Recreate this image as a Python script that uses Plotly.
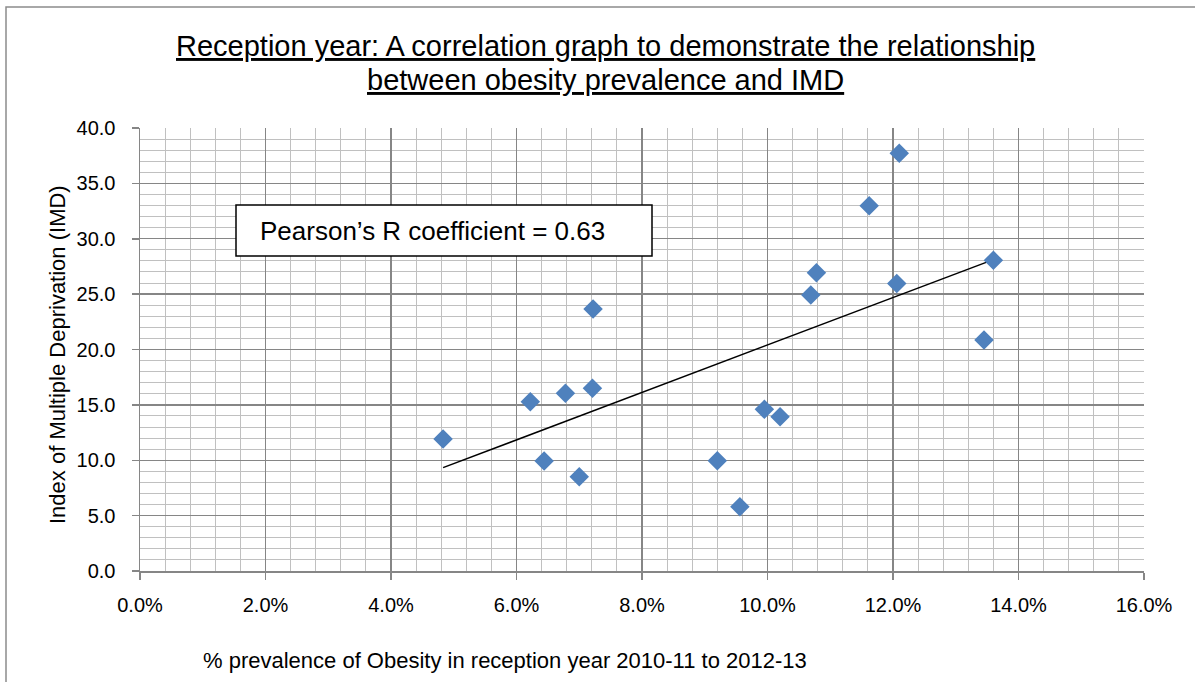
import numpy as np
import plotly.graph_objects as go

# % prevalence of obesity (reception year) and IMD score
obesity_pct = [4.83, 6.22, 6.44, 6.78, 7.00, 7.21, 7.22, 9.20, 9.56, 9.95,
               10.20, 10.69, 10.78, 11.62, 12.06, 12.10, 13.45, 13.60]
imd_score = [11.92, 15.29, 9.93, 16.04, 8.52, 16.49, 23.66, 9.96, 5.81, 14.60,
             13.93, 24.92, 26.94, 32.98, 25.97, 37.71, 20.86, 28.05]

title_lines = ["Reception year: A correlation graph to demonstrate the relationship",
               "between obesity prevalence and IMD"]
x_title = "% prevalence of Obesity in reception year 2010-11 to 2012-13"
y_title = "Index of Multiple Deprivation (IMD)"
box_text = "Pearson\u2019s R coefficient = 0.63"

W, H = 1195, 682
ML, MR, MT, MB = 140, 51, 128, 111
PW, PH = W - ML - MR, H - MT - MB


def px(xp):
    return (xp - ML) / PW


def py(yp):
    return (H - MB - yp) / PH


slope, intercept = np.polyfit(obesity_pct, imd_score, 1)
tx = [min(obesity_pct), max(obesity_pct)]
ty = [slope * v + intercept for v in tx]

fig = go.Figure()
fig.add_trace(go.Scatter(x=tx, y=ty, mode="lines",
                         line=dict(color="black", width=1.5),
                         hoverinfo="skip", showlegend=False))
fig.add_trace(go.Scatter(x=obesity_pct, y=imd_score, mode="markers",
                         marker=dict(symbol="diamond", size=15, color="#4F81BD",
                                     line=dict(width=0)),
                         showlegend=False))

FONT = "Liberation Sans, Arial, sans-serif"
MAJ = "#868686"
MIN = "#c0c0c0"

fig.update_layout(
    width=W, height=H,
    margin=dict(l=ML, r=MR, t=MT, b=MB, pad=0),
    paper_bgcolor="white", plot_bgcolor="white",
    font=dict(family=FONT, color="black"),
    xaxis=dict(range=[0, 16], dtick=2, tick0=0, ticksuffix="%", tickformat=".1f",
               showgrid=True, gridcolor=MAJ, gridwidth=1.3,
               minor=dict(dtick=0.4, tick0=0, showgrid=True, gridcolor=MIN, gridwidth=1, ticks=""),
               showline=True, linecolor=MAJ, linewidth=1.5,
               ticks="outside", ticklen=7, tickcolor=MAJ, tickwidth=1.5,
               zeroline=False, tickfont=dict(size=20, family=FONT),
               ticklabelstandoff=8, fixedrange=True),
    yaxis=dict(range=[0, 40], dtick=5, tick0=0, tickformat=".1f",
               showgrid=True, gridcolor=MAJ, gridwidth=1.3,
               minor=dict(dtick=1, tick0=0, showgrid=True, gridcolor=MIN, gridwidth=1, ticks=""),
               showline=True, linecolor=MAJ, linewidth=1.5,
               ticks="outside", ticklen=7, tickcolor=MAJ, tickwidth=1.5,
               zeroline=False, tickfont=dict(size=20, family=FONT),
               ticklabelstandoff=12, fixedrange=True),
)

shapes = [
    # chart border (only top and left visible in the frame)
    dict(type="rect", xref="paper", yref="paper",
         x0=px(6), x1=px(W + 20), y0=py(H + 20), y1=py(7),
         line=dict(color="#8c8c8c", width=1.5), fillcolor="rgba(0,0,0,0)", layer="above"),
    # text box
    dict(type="rect", xref="paper", yref="paper",
         x0=px(236), x1=px(652), y0=py(256), y1=py(205),
         line=dict(color="black", width=1.5), fillcolor="white", layer="above"),
]
fig.update_layout(shapes=shapes)

annotations = [
    dict(text="<u>" + title_lines[0] + "</u>", x=px(605.5), y=py(46), xref="paper", yref="paper",
         xanchor="center", yanchor="middle", showarrow=False, font=dict(size=29, family=FONT)),
    dict(text="<u>" + title_lines[1] + "</u>", x=px(605.5), y=py(80), xref="paper", yref="paper",
         xanchor="center", yanchor="middle", showarrow=False, font=dict(size=29, family=FONT)),
    dict(text=x_title, x=px(505), y=py(660), xref="paper", yref="paper",
         xanchor="center", yanchor="middle", showarrow=False, font=dict(size=22, family=FONT)),
    dict(text=y_title, x=px(57), y=py(355), xref="paper", yref="paper", textangle=-90,
         xanchor="center", yanchor="middle", showarrow=False, font=dict(size=22, family=FONT)),
    dict(text=box_text, x=px(258), y=py(230.5), xref="paper", yref="paper",
         xanchor="left", yanchor="middle", showarrow=False, font=dict(size=26, family=FONT)),
]
fig.update_layout(annotations=annotations)

fig.write_html("out.html", config={"displayModeBar": False, "staticPlot": True},
               post_script="document.body.style.margin='0';document.body.style.padding='0';"
                           "document.documentElement.style.overflow='hidden';")
